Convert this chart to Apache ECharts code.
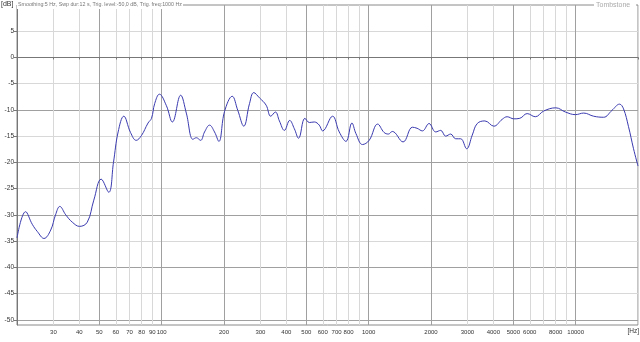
<!DOCTYPE html>
<html>
<head>
<meta charset="utf-8">
<script src="https://cdn.jsdelivr.net/npm/echarts@6/dist/echarts.min.js"></script>
<style>
html,body{margin:0;padding:0;background:#fff;}
#c{width:640px;height:342px;}
</style>
</head>
<body>
<div id="c"></div>
<script>
// Frequency (Hz) and level (dB)
const freqs = [20, 22.0, 23.7, 25.1, 27.0, 29.1, 30.7, 32.2, 34.4, 37.0, 40.1, 43.7, 47.0, 51.0, 55.5, 58.5,
  61.6, 65.6, 70.7, 75.3, 79.8, 85.9, 89.3, 92.5, 97.5, 105.4, 112.6, 123.5, 131.5, 141.5, 147.0, 154.2,
  161.1, 170.3, 180, 188.9, 201.2, 219.1, 233.2, 249.2, 265.6, 278.5, 296.7, 319.6, 336.3, 354.3, 370.4,
  391.5, 415.4, 437.5, 458.3, 492, 516.8, 546.2, 577, 598.8, 669.1, 720.8, 776.7, 829.9, 867.6, 933.4,
  1005.5, 1105, 1187, 1245, 1300, 1466, 1626, 1713, 1817, 1957, 2108, 2228, 2355, 2489, 2632, 2782, 2974,
  3165, 3345, 3642, 4025, 4413, 4665, 5027, 5372, 5827, 6380, 7013, 8020, 8921, 9968, 10930, 12210,
  13640, 14960, 16290, 17030, 18000, 19030, 20000];
const levels = [-34.4, -29.4, -31.8, -33.2, -34.5, -32.9, -30.0, -28.4, -30.0, -31.4, -32.2, -31.4, -27.2, -23.2, -25.7, -20.0,
  -14.2, -11.2, -14.3, -15.8, -14.9, -12.5, -11.6, -8.8, -7.0, -9.2, -12.3, -7.2, -10.6, -15.6, -15.3, -15.8,
  -14.2, -12.9, -14.2, -16.0, -10.3, -7.4, -10.1, -13.1, -8.8, -6.7, -7.7, -9.1, -11.2, -10.4, -12.1,
  -13.9, -12.0, -13.6, -15.4, -11.6, -12.4, -12.3, -12.9, -14.0, -11.2, -14.2, -16.0, -12.5, -14.5, -16.6,
  -15.8, -12.7, -14.3, -14.6, -14.1, -16.1, -13.3, -13.5, -14.0, -12.6, -14.2, -13.9, -15.0, -14.6, -15.5, -15.5, -17.4,
  -14.8, -12.6, -12.1, -13.1, -11.8, -11.3, -11.7, -11.6, -10.7, -11.3, -10.2, -9.6, -10.4, -10.9, -10.6, -11.2,
  -11.4, -10.1, -8.9, -9.8, -13.2, -17.4, -20.7];

const xGridAll = [20,30,40,50,60,70,80,90,100,200,300,400,500,600,700,800,900,1000,2000,3000,4000,5000,6000,7000,8000,9000,10000,20000];
const xGridMajor = [50,100,200,500,1000,2000,5000,10000];
const xTickLabels = [30,40,50,60,70,80,90,100,200,300,400,500,600,700,800,1000,2000,3000,4000,5000,6000,8000,10000];
const yTickLabels = [-50,-45,-40,-35,-30,-25,-20,-15,-10,-5,0,5];
const yGridMajor = [-50,-40,-30,-20,-10,0];

const titleText = 'Smoothing:5 Hz, Swp dur:12 s, Trig. level:-50,0 dB, Trig. freq:1000 Hz';
const watermark = 'Tombstone';

const FONT = 'Liberation Sans, Arial, sans-serif';
const chart = echarts.init(document.getElementById('c'), null, {renderer: 'canvas'});
const lightGrid = '#d8d8d8', darkGrid = '#a0a0a0', axisCol = '#777';

chart.setOption({
  animation: false,
  backgroundColor: '#fff',
  grid: {left: 17, right: 2, top: 5, bottom: 17, show: true, borderColor: '#8a8a8a', borderWidth: 1},
  xAxis: [{
    type: 'log', min: 20, max: 20000, position: 'bottom',
    axisLine: {show: true, lineStyle: {color: axisCol}},
    axisTick: {show: true, length: 2, customValues: xGridAll, lineStyle: {color: axisCol}},
    axisLabel: {customValues: xTickLabels, fontSize: 6, margin: 4, color: '#333', fontFamily: FONT,
      formatter: v => String(Math.round(v))},
    splitLine: {show: true, lineStyle: {color: lightGrid, width: 1}},
    minorTick: {show: false}, minorSplitLine: {show: false}
  }, {
    type: 'log', min: 20, max: 20000, position: 'bottom',
    axisLine: {show: false},
    axisTick: {show: false, customValues: xGridMajor},
    axisLabel: {show: false},
    splitLine: {show: true, lineStyle: {color: darkGrid, width: 1}}
  }],
  yAxis: [{
    type: 'value', min: -51, max: 10, position: 'left',
    axisLine: {show: true, lineStyle: {color: axisCol}},
    axisTick: {show: true, length: 3, customValues: yTickLabels, lineStyle: {color: axisCol}},
    axisLabel: {customValues: yTickLabels, fontSize: 6.5, margin: 3, color: '#333', fontFamily: FONT},
    splitLine: {show: true, lineStyle: {color: lightGrid, width: 1}}
  }, {
    type: 'value', min: -51, max: 10, position: 'left',
    axisLine: {show: false},
    axisTick: {show: false, customValues: yGridMajor},
    axisLabel: {show: false},
    splitLine: {show: true, lineStyle: {color: darkGrid, width: 1}}
  }],
  series: [{
    type: 'line',
    xAxisIndex: 0, yAxisIndex: 0,
    data: freqs.map((f, i) => [f, levels[i]]),
    showSymbol: false,
    smooth: 0.4,
    lineStyle: {color: '#3a3ab0', width: 1},
    z: 5
  }],
  graphic: [
    {type: 'text', left: 1, top: 1, z: 10, style: {text: '[dB]', fontSize: 7, fill: '#333', fontFamily: FONT}},
    {type: 'rect', left: 17, top: 2, z: 9, shape: {width: 166, height: 7}, style: {fill: '#fff'}},
    {type: 'text', left: 18, top: 2, z: 10, style: {text: titleText, fontSize: 5.3, fill: '#777', fontFamily: FONT}},
    {type: 'rect', left: 594, top: 2, z: 9, shape: {width: 42, height: 8}, style: {fill: '#fff'}},
    {type: 'text', left: 596, top: 2, z: 10, style: {text: watermark, fontSize: 7, fill: '#aaa', fontFamily: FONT}},
    {type: 'text', right: 1, top: 328, z: 10, style: {text: '[Hz]', fontSize: 6.5, fill: '#333', fontFamily: FONT}}
  ]
});
</script>
</body>
</html>
